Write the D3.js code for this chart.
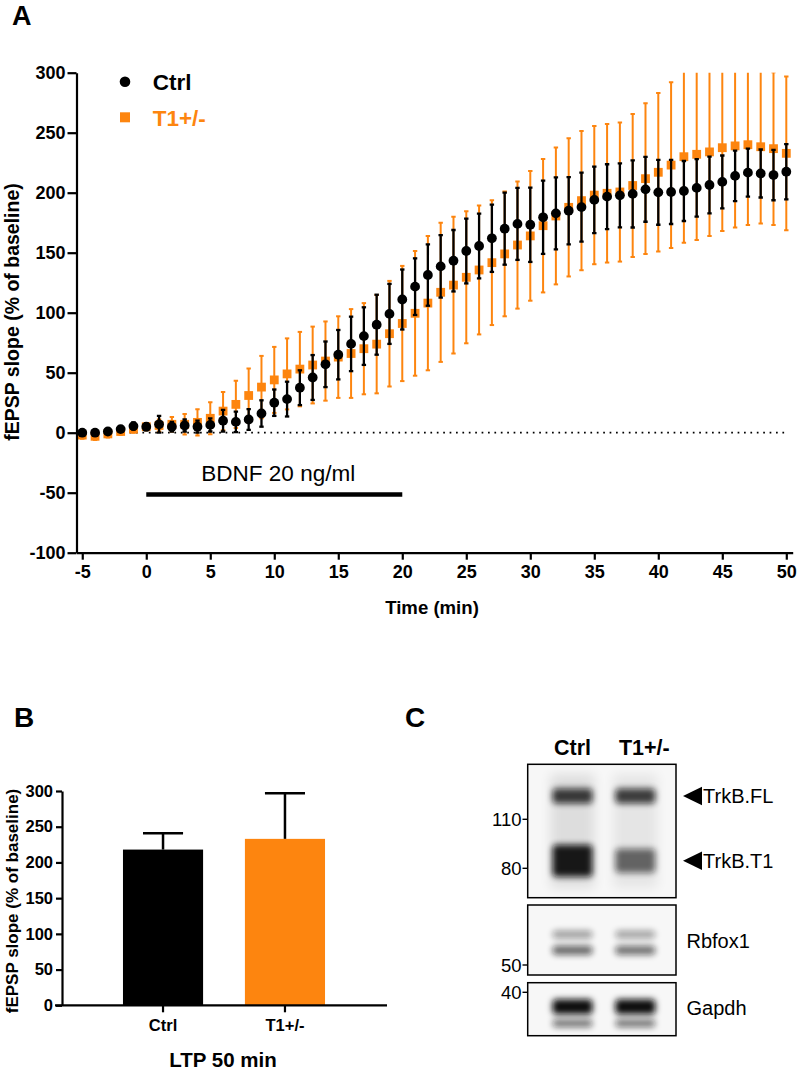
<!DOCTYPE html>
<html><head><meta charset="utf-8">
<script src="https://cdn.jsdelivr.net/npm/d3@7"></script>
<style>
html,body{margin:0;padding:0;background:#fff;}
svg{display:block;font-family:"Liberation Sans",Arial,Helvetica,sans-serif;}
</style></head><body>
<svg id="fig" width="799" height="1070"></svg>
<script>
// ---------------- DATA ----------------
const timeMin = [-5,-4,-3,-2,-1,0,1,2,3,4,5,6,7,8,9,10,11,12,13,14,15,16,17,18,19,20,21,22,23,24,25,26,27,28,29,30,31,32,33,34,35,36,37,38,39,40,41,42,43,44,45,46,47,48,49,50];
const ctrlMean = [0,0,1,3,5.5,5,7,5,6,5,6.5,10,9,11,16,25,28,37.5,46,57,65,74,80.5,90,99,111,121.7,131.4,138.6,143.3,151.4,155.6,162,170,174,173.3,179.5,182.8,185,188,194,196.7,197.8,199,202.8,200.3,200.6,201.4,204,206.4,209,214,216.7,216,214.7,217.5];
const ctrlSem  = [2,2,2,2,3,3,7,4,5,5,5.5,9,8.5,8.6,11,11,14.5,14.5,18.7,19,20.6,22.7,24,25,25,25,23.6,25.6,26,25.6,27,27,28,30,30,31,30.5,30,28,28.7,27.7,27,26.7,28,27,27,26.7,25,24,23.6,22,21,20,20,21,23];
const t1Mean   = [-2,-3,-1,1,3,5,6,7,7,8.6,12,18,23.6,31,38,44,49,53,56.4,59.7,63,66,70,73.8,82.5,91,99.5,108,117,123,129.5,135.6,141.7,149,156.4,164,172.5,180.6,187.8,193.4,198,199.5,200.6,206,211.7,217,223,230,232,234,237.5,239,240,238.3,236.7,232.8];
const t1Sem    = [3,3,3,3,3,3,5,6,8.6,11,13.3,16,19.7,22.6,26,27.5,29.6,31,32,33,34,37,38,41,44,48,52,56,58,57,55,53.7,52,52,53,54,55.6,57,57.6,58,57.6,57.7,58,59.6,62.8,66,69,71.7,71.4,70,69.5,68,67,64,63.7,64];
const seriesNames = ["Ctrl", "T1+/-"];
const xTicksA = [-5,0,5,10,15,20,25,30,35,40,45,50];
const yTicksA = [-100,-50,0,50,100,150,200,250,300];
const bdnfWindow = [0, 20];
const bdnfLevel = -51.5;
const bdnfLabel = "BDNF 20 ng/ml";

const ltpCategories = ["Ctrl", "T1+/-"];
const ltpMean = [218, 233];
const ltpSem = [23, 64];
const yTicksB = [0,50,100,150,200,250,300];

const blotLanes = ["Ctrl", "T1+/-"];
const markerKDa = [110, 80, 50, 40];
const markerPanel = [0, 0, 1, 2];
const bandKDa = [128, 84, 61, 55, 36.4, 32.7];
const bandPanel = [0, 0, 1, 1, 2, 2];
const bandCtrl = [0.80, 0.95, 0.38, 0.62, 1.0, 0.55];
const bandT1   = [0.78, 0.60, 0.36, 0.58, 1.0, 0.55];
const bandNames = ["TrkB.FL", "TrkB.T1", "Rbfox1", "Gapdh"];

// ---------------- STYLE ----------------
const ORANGE = "#FD850F";
const fmt = d => String(d);
const svg = d3.select("#fig");
const defs = svg.append("defs");

// ---------------- PANEL A ----------------
const xA = d3.scaleLinear().domain([-5.45, 50.5]).range([76.5, 792.7]);
const yA = d3.scaleLinear().domain([-100, 300]).range([552.7, 72.7]);

svg.append("text").attr("x", 12).attr("y", 25).attr("font-size", 27).attr("font-weight", "bold").text("A");

defs.append("clipPath").attr("id", "clipA").append("rect")
  .attr("x", xA.range()[0]).attr("y", yA(300)).attr("width", xA.range()[1] - xA.range()[0] + 2)
  .attr("height", yA(-100) - yA(300));

const gA = svg.append("g");

// zero dotted line
gA.append("line").attr("x1", xA(-5.3)).attr("x2", xA(50.1)).attr("y1", yA(0)).attr("y2", yA(0))
  .attr("stroke", "#000").attr("stroke-width", 1.7).attr("stroke-dasharray", "1.7 4.7");

// BDNF bar
gA.append("line").attr("x1", xA(bdnfWindow[0])).attr("x2", xA(bdnfWindow[1]))
  .attr("y1", yA(bdnfLevel)).attr("y2", yA(bdnfLevel)).attr("stroke", "#000").attr("stroke-width", 4.4);
gA.append("text").attr("x", xA((bdnfWindow[0] + bdnfWindow[1]) / 2) + 4).attr("y", 480.5)
  .attr("text-anchor", "middle").attr("font-size", 22.5).text(bdnfLabel);

const dataA = [
  { name: seriesNames[0], mean: ctrlMean, sem: ctrlSem, color: "#000", sw: 2.3 },
  { name: seriesNames[1], mean: t1Mean, sem: t1Sem, color: ORANGE, sw: 2 }
];
const plotG = gA.append("g").attr("clip-path", "url(#clipA)");

function drawErr(s) {
  const g = plotG.append("g").attr("stroke", s.color).attr("stroke-width", s.sw);
  timeMin.forEach((t, i) => {
    const x = xA(t), lo = yA(s.mean[i] - s.sem[i]), hi = yA(s.mean[i] + s.sem[i]);
    g.append("line").attr("x1", x).attr("x2", x).attr("y1", lo).attr("y2", hi);
    g.append("line").attr("x1", x - 2.2).attr("x2", x + 2.2).attr("y1", lo).attr("y2", lo);
    g.append("line").attr("x1", x - 2.2).attr("x2", x + 2.2).attr("y1", hi).attr("y2", hi);
  });
}
// orange below black
drawErr(dataA[1]);
plotG.append("g").selectAll("rect").data(timeMin).join("rect")
  .attr("x", (t) => xA(t) - 4.4).attr("y", (t, i) => yA(t1Mean[i]) - 4.4)
  .attr("width", 8.8).attr("height", 8.8).attr("fill", ORANGE);
drawErr(dataA[0]);
plotG.append("g").selectAll("circle").data(timeMin).join("circle")
  .attr("cx", (t) => xA(t)).attr("cy", (t, i) => yA(ctrlMean[i])).attr("r", 4.9).attr("fill", "#000");

// axes
const axYA = gA.append("g").attr("transform", `translate(${xA.range()[0]},0)`)
  .call(d3.axisLeft(yA).tickValues(yTicksA).tickFormat(fmt).tickSize(9).tickPadding(2).tickSizeOuter(0));
const axXA = gA.append("g").attr("transform", `translate(0,${yA(-100)})`)
  .call(d3.axisBottom(xA).tickValues(xTicksA).tickFormat(fmt).tickSize(7).tickPadding(6).tickSizeOuter(0));
[axYA, axXA].forEach(a => {
  a.selectAll("path,line").attr("stroke", "#000").attr("stroke-width", 2.2);
  a.selectAll("text").attr("font-size", 18).attr("font-weight", "bold").attr("fill", "#000")
    .attr("font-family", '"Liberation Sans",Arial,sans-serif');
});
gA.append("text").attr("x", 432).attr("y", 614).attr("text-anchor", "middle")
  .attr("font-size", 18.6).attr("font-weight", "bold").text("Time (min)");
gA.append("text").attr("transform", "translate(19,312) rotate(-90)").attr("text-anchor", "middle")
  .attr("font-size", 19.5).attr("font-weight", "bold").text("fEPSP slope (% of baseline)");

// legend
const legA = gA.append("g");
legA.append("circle").attr("cx", 125).attr("cy", 81.7).attr("r", 5.3).attr("fill", "#000");
legA.append("text").attr("x", 152.7).attr("y", 89.5).attr("font-size", 22.5).attr("font-weight", "bold").text(seriesNames[0]);
legA.append("rect").attr("x", 120).attr("y", 112.3).attr("width", 10).attr("height", 10).attr("fill", ORANGE);
legA.append("text").attr("x", 152.7).attr("y", 125.5).attr("font-size", 22.5).attr("font-weight", "bold")
  .attr("fill", ORANGE).text(seriesNames[1]);

// ---------------- PANEL B ----------------
svg.append("text").attr("x", 14).attr("y", 727).attr("font-size", 28).attr("font-weight", "bold").text("B");
const yB = d3.scaleLinear().domain([0, 300]).range([1005.3, 791]);
const xB = d3.scaleBand().domain(ltpCategories).range([62, 386]).paddingInner(0.343).paddingOuter(0.5);
const gB = svg.append("g");
gB.selectAll("rect.bar").data(ltpCategories).join("rect").attr("class", "bar")
  .attr("x", d => xB(d)).attr("width", xB.bandwidth())
  .attr("y", (d, i) => yB(ltpMean[i])).attr("height", (d, i) => yB(0) - yB(ltpMean[i]))
  .attr("fill", (d, i) => i === 0 ? "#000" : ORANGE);
ltpCategories.forEach((d, i) => {
  const cx = xB(d) + xB.bandwidth() / 2;
  gB.append("line").attr("x1", cx).attr("x2", cx).attr("y1", yB(ltpMean[i])).attr("y2", yB(ltpMean[i] + ltpSem[i]))
    .attr("stroke", "#000").attr("stroke-width", 2.5);
  gB.append("line").attr("x1", cx - xB.bandwidth() / 4).attr("x2", cx + xB.bandwidth() / 4)
    .attr("y1", yB(ltpMean[i] + ltpSem[i])).attr("y2", yB(ltpMean[i] + ltpSem[i]))
    .attr("stroke", "#000").attr("stroke-width", 2.5);
});
const axYB = gB.append("g").attr("transform", "translate(62,0)")
  .call(d3.axisLeft(yB).tickValues(yTicksB).tickFormat(fmt).tickSize(6).tickPadding(3).tickSizeOuter(0));
const axXB = gB.append("g").attr("transform", `translate(0,${yB(0)})`)
  .call(d3.axisBottom(xB).tickSize(7).tickPadding(7).tickSizeOuter(0));
axXB.select("path.domain").attr("d", `M55,0H387`);
[axYB, axXB].forEach(a => {
  a.selectAll("path,line").attr("stroke", "#000").attr("stroke-width", 2.2);
  a.selectAll("text").attr("font-size", 16.5).attr("font-weight", "bold").attr("fill", "#000")
    .attr("font-family", '"Liberation Sans",Arial,sans-serif');
});
gB.append("text").attr("x", 223).attr("y", 1066.5).attr("text-anchor", "middle")
  .attr("font-size", 20.5).attr("font-weight", "bold").text("LTP 50 min");
gB.append("text").attr("transform", "translate(18,901) rotate(-90)").attr("text-anchor", "middle")
  .attr("font-size", 17).attr("font-weight", "bold").text("fEPSP slope (% of baseline)");

// ---------------- PANEL C ----------------
svg.append("text").attr("x", 405).attr("y", 727).attr("font-size", 28).attr("font-weight", "bold").text("C");
const gC = svg.append("g");
const laneX = d3.scalePoint().domain(blotLanes).range([572.5, 635.3]);
const boxX0 = 527.7, boxX1 = 676;
const boxes = [[764.3, 897.7], [905, 975], [982.7, 1035.7]];
const pxPerLn = 153.9;
const panelScales = [
  d3.scaleLog().domain([110, 80]).range([819.3, 819.3 + pxPerLn * Math.log(110 / 80)]),
  d3.scaleLog().domain([50, 80]).range([965, 965 - pxPerLn * Math.log(80 / 50)]),
  d3.scaleLog().domain([40, 30]).range([992.3, 992.3 + pxPerLn * Math.log(40 / 30)])
];
const bandHeight = [15, 32, 8, 9, 15, 8];
const blur = defs.append("filter").attr("id", "blur").attr("x", "-30%").attr("y", "-100%").attr("width", "160%").attr("height", "300%");
blur.append("feGaussianBlur").attr("stdDeviation", "3.4 3.4");
const blur2 = defs.append("filter").attr("id", "blur2").attr("x", "-30%").attr("y", "-30%").attr("width", "160%").attr("height", "160%");
blur2.append("feGaussianBlur").attr("stdDeviation", "6");

boxes.forEach((b, k) => {
  defs.append("clipPath").attr("id", "clipC" + k).append("rect")
    .attr("x", boxX0).attr("y", b[0]).attr("width", boxX1 - boxX0).attr("height", b[1] - b[0]);
  gC.append("rect").attr("x", boxX0).attr("y", b[0]).attr("width", boxX1 - boxX0).attr("height", b[1] - b[0])
    .attr("fill", "#f7f7f7");
});
// lane smear in first panel
const smear = gC.append("g").attr("clip-path", "url(#clipC0)");
blotLanes.forEach((l, j) => {
  smear.append("rect").attr("x", laneX(l) - 22).attr("y", boxes[0][0] + 10).attr("width", 44)
    .attr("height", boxes[0][1] - boxes[0][0] - 20).attr("fill", "#000").attr("opacity", j === 0 ? 0.1 : 0.07)
    .attr("filter", "url(#blur2)");
});
bandKDa.forEach((kd, i) => {
  const p = bandPanel[i];
  const g = gC.append("g").attr("clip-path", `url(#clipC${p})`);
  const y = panelScales[p](kd);
  [bandCtrl[i], bandT1[i]].forEach((v, j) => {
    const h = (i === 1 && j === 1) ? bandHeight[i] - 8 : bandHeight[i];
    g.append("rect").attr("x", laneX(blotLanes[j]) - 20).attr("y", y - h / 2).attr("width", 40).attr("height", h)
      .attr("rx", 4).attr("fill", "#0a0a0a").attr("opacity", v).attr("filter", "url(#blur)");
  });
});
boxes.forEach((b) => {
  gC.append("rect").attr("x", boxX0).attr("y", b[0]).attr("width", boxX1 - boxX0).attr("height", b[1] - b[0])
    .attr("fill", "none").attr("stroke", "#000").attr("stroke-width", 1.5);
});
// lane headers
blotLanes.forEach((l, j) => {
  gC.append("text").attr("x", laneX(l) + (j === 1 ? 9 : 0)).attr("y", 755).attr("text-anchor", "middle")
    .attr("font-size", 21.5).attr("font-weight", "bold").text(l);
});
// MW markers
markerKDa.forEach((kd, i) => {
  const y = panelScales[markerPanel[i]](kd);
  gC.append("line").attr("x1", 522.5).attr("x2", boxX0).attr("y1", y).attr("y2", y).attr("stroke", "#000").attr("stroke-width", 1.4);
  gC.append("text").attr("x", 521.5).attr("y", y + 6.5).attr("text-anchor", "end").attr("font-size", 18.5).text(kd);
});
// right labels
[0, 1].forEach(i => {
  const y = panelScales[bandPanel[i]](bandKDa[i]);
  gC.append("path").attr("d", `M683,${y}L702,${y - 9.3}L702,${y + 9.3}Z`).attr("fill", "#000");
  gC.append("text").attr("x", 703).attr("y", y + 7.3).attr("font-size", 20).text(bandNames[i]);
});
gC.append("text").attr("x", 686.5).attr("y", (boxes[1][0] + boxes[1][1]) / 2 + 7.5).attr("font-size", 20).text(bandNames[2]);
gC.append("text").attr("x", 686.5).attr("y", (boxes[2][0] + boxes[2][1]) / 2 + 6).attr("font-size", 20).text(bandNames[3]);
</script>
</body></html>
